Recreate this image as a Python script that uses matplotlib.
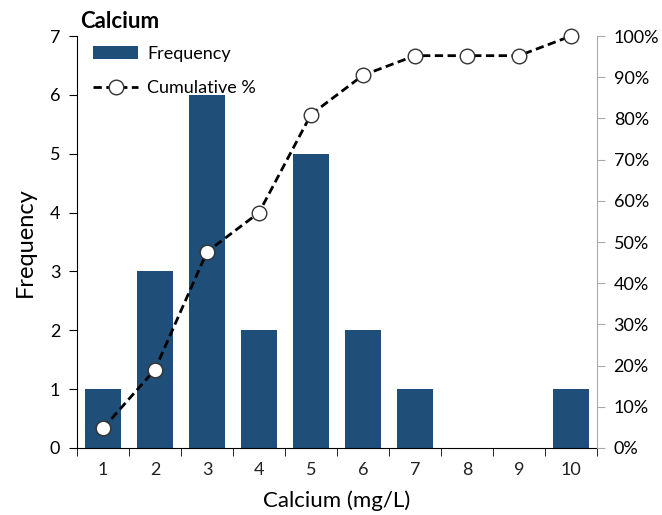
import matplotlib.pyplot as plt
import numpy as np
from matplotlib.ticker import FuncFormatter

# Calcium histogram data
bins = [1, 2, 3, 4, 5, 6, 7, 8, 9, 10]
frequency = [1, 3, 6, 2, 5, 2, 1, 0, 0, 1]
cumulative_pct = [4.76, 19.05, 47.62, 57.14, 80.95, 90.48, 95.24, 95.24, 95.24, 100.0]

bar_color = '#1f4e79'
plt.rcParams['font.family'] = ['Lato', 'DejaVu Sans']

fig = plt.figure(figsize=(6.62, 5.15), dpi=100)
ax = fig.add_axes([0.1163, 0.1301, 0.7855, 0.7999])

x = np.arange(len(bins))
bars = ax.bar(x, frequency, width=0.69, color=bar_color, label='Frequency', zorder=2)

ax.set_xlim(-0.5, len(bins) - 0.5)
ax.set_ylim(0, 7)
ax.set_yticks(range(0, 8))
ax.set_xticks(x)
ax.set_xticklabels([str(b) for b in bins])
ax.set_xticks(np.arange(-0.5, len(bins)), minor=True)
ax.tick_params(axis='x', which='major', length=0, labelsize=13, pad=10, colors='#222222')
ax.tick_params(axis='x', which='minor', length=6, direction='out', color='black')
ax.tick_params(axis='y', length=6, direction='out', labelsize=13, pad=6, colors='black')
ax.spines['top'].set_visible(False)
ax.spines['right'].set_visible(False)
ax.spines['left'].set_color('black')
ax.spines['bottom'].set_color('black')
ax.set_xlabel('Calcium (mg/L)', fontsize=16, labelpad=9)
ax.set_ylabel('Frequency', fontsize=17, labelpad=10)

ax2 = ax.twinx()
line, = ax2.plot(x, cumulative_pct, color='black', linestyle='--', linewidth=2,
                 dashes=(3, 1.6), marker='o', markersize=10.5,
                 markerfacecolor='white', markeredgecolor='#333333',
                 markeredgewidth=1, label='Cumulative %', zorder=3, clip_on=False)
ax2.set_ylim(0, 100)
ax2.set_yticks(range(0, 101, 10))
ax2.yaxis.set_major_formatter(FuncFormatter(lambda v, p: f'{int(v)}%'))
ax2.tick_params(axis='y', length=6, direction='out', labelsize=13, pad=6,
                color='#aaaaaa', labelcolor='black')
for side in ['top', 'left', 'bottom']:
    ax2.spines[side].set_visible(False)
ax2.spines['right'].set_color('#aaaaaa')

ax.legend([bars, line], ['Frequency', 'Cumulative %'], loc='upper left',
          bbox_to_anchor=(0.0, 1.015), frameon=False, fontsize=13,
          handlelength=2.5, labelspacing=1.0, handletextpad=0.5)

fig.text(0.121, 0.958, 'Calcium', fontsize=16, fontweight='bold', ha='left', va='center')

fig.savefig('out.png', dpi=100)
